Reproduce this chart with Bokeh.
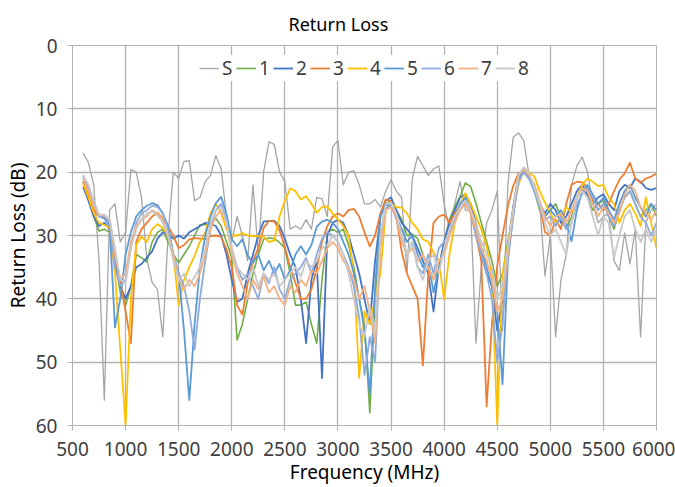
from bokeh.plotting import figure
from bokeh.models import Range1d, FixedTicker, Legend
from bokeh.embed import file_html
from bokeh.resources import INLINE

freq = list(range(600, 6001, 50))

s_vals = [
    17.0, 18.5, 22.0, 34.0, 56.0, 26.0, 25.0, 31.0, 29.5, 19.6,
    20.0, 24.0, 33.7, 37.4, 38.5, 46.0, 30.0, 20.0, 21.0, 18.3,
    18.2, 24.5, 24.0, 21.5, 20.5, 17.4, 19.5, 27.0, 31.0, 27.0,
    30.0, 34.0, 22.0, 33.0, 20.0, 15.2, 15.6, 20.0, 21.5, 29.0,
    28.5, 29.0, 27.5, 29.0, 24.0, 24.2, 27.0, 16.0, 15.0, 22.0,
    20.0, 19.8, 22.0, 25.0, 25.0, 24.3, 25.5, 23.0, 21.2, 23.0,
    24.0, 36.0, 21.0, 17.5, 19.0, 20.5, 19.5, 19.0, 25.0, 29.0,
    25.0, 21.5, 26.0, 26.0, 47.0, 35.0, 28.0, 26.0, 23.0, 45.0,
    22.0, 14.5, 13.8, 15.0, 20.5, 22.3, 25.0, 36.4, 30.0, 46.0,
    37.0, 33.0, 22.0, 19.0, 17.6, 20.0, 25.0, 28.0, 27.0, 26.5,
    34.0, 35.5, 29.6, 34.5, 29.0, 46.0, 28.0, 26.0, 25.0,
]
s1 = [
    21.5, 24.0, 27.0, 29.3, 29.0, 29.5, 34.0, 39.0, 41.0, 38.0,
    33.0, 33.5, 34.2, 31.0, 29.5, 29.0, 31.0, 33.0, 34.3, 33.0,
    31.7, 30.0, 28.3, 28.3, 28.0, 27.3, 28.5, 31.0, 33.5, 46.5,
    44.0, 40.0, 36.0, 33.0, 30.6, 30.4, 30.5, 31.1, 32.0, 36.0,
    41.0, 41.0, 40.5, 44.0, 47.0, 37.0, 29.5, 29.0, 29.5, 29.0,
    31.5, 35.0, 40.0, 44.0, 58.0, 40.0, 30.0, 25.0, 24.5, 26.0,
    27.5, 30.0, 29.8, 30.5, 33.0, 35.0, 36.9, 35.3, 31.0, 27.5,
    25.5, 23.8, 21.7, 22.3, 24.9, 28.0, 31.0, 34.0, 38.0, 36.0,
    31.0, 26.0, 21.0, 19.5, 20.5, 23.0, 26.0, 27.0, 26.0, 25.0,
    27.0, 29.0, 27.0, 24.0, 22.5, 24.0, 26.0, 25.0, 24.5, 27.0,
    29.0, 26.0, 24.0, 23.0, 25.0, 27.0, 26.0, 25.0, 27.0,
]
s2 = [
    22.3, 24.5, 27.0, 28.5, 28.0, 29.0, 33.0, 38.0, 40.0, 38.0,
    35.0, 34.5, 33.5, 32.5, 30.5, 29.5, 29.8, 30.5, 30.0, 30.5,
    29.5, 29.0, 28.5, 28.0, 28.2, 28.5, 30.0, 33.0, 37.0, 40.5,
    40.0, 36.0, 33.0, 30.0, 27.8, 27.7, 27.7, 28.5, 30.5, 33.0,
    35.0, 40.0, 47.0, 37.0, 34.0, 52.5, 30.0, 28.0, 27.5, 28.0,
    30.0, 33.0, 36.0, 40.0, 44.0, 34.0, 27.0, 24.5, 24.0, 26.0,
    28.0, 29.0, 30.0, 32.0, 34.0, 36.0, 42.0, 35.0, 31.0, 28.0,
    26.0, 24.0, 23.5, 25.0, 28.0, 33.0, 36.0, 38.0, 45.0, 40.0,
    32.0, 25.5, 20.5, 20.0, 21.0, 23.0, 25.0, 26.5, 25.0, 26.0,
    28.0, 27.0, 25.0, 23.0, 22.0, 23.5, 25.0, 24.0, 23.5, 25.0,
    26.0, 23.0, 22.0, 22.5, 21.0, 21.5, 22.5, 22.8, 22.5,
]
s3 = [
    21.5, 23.5, 26.0, 27.0, 27.0, 27.5, 33.0, 37.0, 42.0, 47.0,
    31.0, 29.0, 28.0, 27.0, 26.4, 27.3, 28.5, 30.1, 32.0, 31.5,
    30.6, 30.4, 30.5, 30.6, 30.1, 30.0, 30.2, 32.2, 35.0, 41.0,
    42.5, 37.5, 34.0, 32.0, 28.8, 27.7, 27.8, 29.2, 31.8, 35.0,
    37.5, 40.0, 40.0, 38.5, 35.3, 31.0, 28.5, 27.0, 26.5, 27.0,
    26.0, 25.8, 27.0, 29.5, 31.7, 30.0, 26.5, 24.3, 24.6, 27.0,
    32.5, 36.0, 38.0, 40.0, 50.5, 36.4, 28.0, 27.0, 26.7, 28.0,
    26.5, 25.2, 25.0, 26.5, 30.0, 34.0, 57.0, 44.0, 34.8, 30.0,
    25.4, 22.2, 20.2, 20.2, 20.6, 22.0, 25.0, 29.5, 30.0, 27.5,
    29.0, 25.0, 22.0, 21.5, 21.6, 22.5, 24.5, 25.0, 26.0, 25.0,
    23.0, 21.2, 20.2, 18.5, 21.0, 21.7, 21.0, 20.7, 20.2,
]
s4 = [
    21.8, 24.0, 26.5, 28.0, 28.3, 28.8, 36.0, 48.0, 60.0, 40.0,
    31.5, 30.2, 31.0, 29.0, 28.2, 28.8, 30.0, 33.0, 41.0, 37.0,
    35.0, 33.2, 31.0, 29.5, 26.5, 25.0, 26.5, 29.0, 30.0, 30.0,
    29.6, 30.0, 30.1, 30.1, 30.2, 31.0, 30.8, 27.0, 24.5, 22.6,
    23.0, 24.3, 23.8, 25.0, 26.4, 25.5, 25.4, 26.5, 27.5, 28.5,
    30.0, 36.0, 52.5, 42.0, 44.0, 40.0, 36.0, 26.0, 25.0, 25.5,
    25.6, 26.5, 28.0, 29.0, 30.6, 31.0, 32.7, 34.0, 40.0, 33.0,
    28.0, 25.0, 23.3, 25.0, 27.0, 29.0, 31.7, 36.0, 60.0, 36.0,
    31.7, 26.0, 22.0, 19.6, 20.0, 20.7, 23.0, 24.8, 26.5, 28.0,
    27.0, 25.5, 26.4, 24.0, 22.0, 21.0, 21.5, 22.2, 22.0, 24.0,
    25.0, 28.0, 26.0, 25.0, 26.5, 28.5, 24.0, 28.0, 32.0,
]
s5 = [
    20.5, 22.5, 25.0, 27.0, 27.3, 28.5, 44.5, 40.0, 33.0, 29.5,
    27.0, 26.0, 25.3, 24.9, 25.2, 26.5, 28.5, 33.0, 36.0, 45.0,
    56.0, 44.0, 35.0, 30.0, 27.0, 24.9, 23.9, 26.6, 30.6, 31.7,
    30.6, 33.2, 34.3, 33.0, 35.5, 34.0, 36.0, 34.5, 37.0, 35.5,
    33.0, 31.7, 33.0, 31.5, 28.6, 27.8, 27.5, 28.0, 29.0, 31.0,
    33.0, 36.0, 40.0, 45.0, 55.0, 38.0, 27.0, 25.0, 25.5, 27.0,
    29.0, 31.0, 30.0, 33.0, 35.0, 34.0, 39.0, 35.0, 32.0, 29.0,
    27.0, 25.0, 24.0, 26.0, 29.0, 32.0, 35.0, 38.0, 42.0, 53.5,
    34.0, 27.0, 21.0, 19.8, 20.5, 22.5, 25.0, 27.0, 26.0, 27.0,
    26.0, 28.0, 30.9, 26.0, 23.0, 22.0, 23.5, 25.0, 24.0, 26.0,
    27.5, 25.0, 23.0, 22.0, 24.0, 25.5, 27.0, 25.0, 26.0,
]
s6 = [
    20.8, 22.3, 25.0, 27.0, 27.0, 28.0, 35.0, 38.0, 37.0, 32.0,
    28.0, 26.5, 26.0, 25.3, 25.5, 26.5, 29.0, 33.0, 36.0, 38.0,
    42.0, 48.0, 40.0, 34.0, 29.0, 26.0, 25.0, 27.5, 32.0, 35.0,
    37.0, 36.0, 38.0, 40.0, 36.0, 37.5, 35.0, 38.5, 40.0, 37.0,
    36.0, 35.0, 33.5, 36.0, 33.0, 30.5, 29.5, 30.0, 31.0, 33.0,
    35.0, 38.0, 43.0, 52.0, 46.0, 50.0, 31.0, 25.8, 25.0, 27.5,
    30.0, 33.0, 31.0, 35.0, 36.0, 33.0, 36.0, 32.0, 31.0, 29.5,
    27.5, 25.5, 24.5, 26.0, 30.0, 33.0, 36.0, 40.0, 50.0, 44.0,
    33.0, 27.0, 21.5, 20.0, 21.0, 23.0, 25.5, 27.5, 27.0, 28.5,
    27.0, 29.0, 28.0, 25.0, 23.5, 22.5, 24.0, 26.0, 25.0, 27.0,
    28.5, 26.0, 24.0, 23.0, 25.0, 27.0, 28.0, 30.0, 28.0,
]
s7 = [
    21.0, 23.0, 25.5, 26.8, 26.8, 27.5, 33.0, 37.0, 36.0, 31.0,
    28.5, 27.5, 27.0, 26.0, 26.5, 27.5, 30.0, 33.0, 37.0, 38.5,
    37.0, 38.0, 36.0, 33.0, 29.0, 27.0, 26.0, 28.0, 33.0, 36.0,
    38.0, 40.0, 37.0, 38.5, 36.5, 39.0, 38.0, 40.0, 41.0, 38.0,
    39.0, 37.0, 38.0, 35.5, 36.0, 34.0, 32.0, 31.0, 32.0, 34.0,
    35.0, 37.0, 40.0, 38.0, 42.0, 47.0, 32.0, 26.0, 25.5, 27.0,
    31.0, 33.0, 32.0, 34.0, 33.0, 35.0, 37.0, 34.0, 33.0, 30.0,
    28.0, 26.0, 25.0, 26.5, 29.0, 32.0, 34.0, 37.0, 42.0, 40.0,
    33.0, 26.0, 20.5, 19.5, 20.5, 22.0, 24.5, 27.0, 28.5, 27.0,
    26.5, 28.0, 26.0, 24.0, 22.5, 23.0, 25.0, 27.0, 25.5, 26.5,
    28.0, 26.5, 23.5, 22.0, 23.0, 25.5, 26.5, 27.5, 26.0,
]
s8 = [
    20.5, 22.0, 24.5, 26.7, 26.7, 27.5, 32.0, 37.0, 37.5, 32.0,
    29.0, 27.5, 26.5, 26.2, 26.8, 28.0, 30.0, 34.0, 37.0, 36.0,
    38.0, 36.5, 35.0, 32.0, 28.0, 26.0, 25.5, 28.0, 32.0, 35.0,
    36.0, 37.0, 35.0, 38.0, 36.0, 37.0, 36.0, 38.0, 37.0, 36.0,
    35.0, 36.5, 34.0, 35.0, 34.0, 32.0, 31.5, 30.0, 31.0, 33.0,
    36.0, 40.0, 44.0, 46.0, 41.0, 45.0, 30.0, 25.0, 24.8, 26.5,
    30.0, 33.0, 31.0, 35.0, 37.0, 34.0, 33.0, 36.0, 32.0, 29.0,
    27.0, 25.5, 24.5, 26.0, 28.0, 31.0, 33.0, 35.0, 40.0, 38.0,
    32.0, 26.0, 20.5, 19.2, 20.0, 22.5, 25.0, 28.0, 30.0, 29.0,
    31.0, 33.0, 28.0, 24.0, 23.0, 24.0, 27.0, 30.0, 27.0, 28.0,
    33.5, 30.0, 27.0, 26.0, 29.0, 31.0, 29.0, 31.0, 29.0,
]

series_names = ["S", "1", "2", "3", "4", "5", "6", "7", "8"]
series_vals = [s_vals, s1, s2, s3, s4, s5, s6, s7, s8]
colors = ["#A5A5A5", "#70AD47", "#4472C4", "#ED7D31", "#FFC000",
          "#5B9BD5", "#8FAADC", "#F4B183", "#C9C9C9"]
widths = [1.3, 1.6, 1.8, 1.8, 1.8, 1.8, 1.8, 1.8, 1.8]

x_ticks = [500, 1000, 1500, 2000, 2500, 3000, 3500, 4000, 4500, 5000, 5500, 6000]
y_ticks = [0, 10, 20, 30, 40, 50, 60]

FONT = "Noto Sans"
GRID = "#B3B3B3"

p = figure(width=675, height=487, output_backend="svg", toolbar_location=None,
           x_range=Range1d(500, 6000), y_range=Range1d(60, 0),
           min_border_left=72, min_border_right=19, min_border_top=45,
           min_border_bottom=60, background_fill_color="white",
           border_fill_color="white")

p.title.text = "Return Loss"
p.title.align = "left"
p.title.offset = 216
p.title.vertical_align = "top"
p.title.text_font = FONT
p.title.text_font_size = "18px"
p.title.text_font_style = "normal"
p.title.text_color = "#000000"
p.title.standoff = 16

p.outline_line_color = GRID
p.outline_line_width = 1

for ax in (p.xaxis[0], p.yaxis[0]):
    ax.axis_line_color = GRID
    ax.axis_line_width = 1
    ax.major_tick_line_color = GRID
    ax.major_tick_in = 0
    ax.major_tick_out = 5
    ax.minor_tick_line_color = None
    ax.major_label_text_font = FONT
    ax.major_label_text_font_size = "19px"
    ax.major_label_text_color = "#404040"
    ax.axis_label_text_font = FONT
    ax.axis_label_text_font_size = "19px"
    ax.axis_label_text_font_style = "normal"
    ax.axis_label_text_color = "#000000"

p.xaxis.ticker = FixedTicker(ticks=x_ticks)
p.yaxis.ticker = FixedTicker(ticks=y_ticks)
p.xaxis.axis_label = "Frequency (MHz)"
p.yaxis.axis_label = "Return Loss (dB)"
p.xaxis.major_label_standoff = 11
p.xaxis.axis_label_standoff = 0
p.yaxis.major_label_standoff = 10
p.yaxis.axis_label_standoff = 2

p.xgrid.ticker = FixedTicker(ticks=x_ticks)
p.ygrid.ticker = FixedTicker(ticks=y_ticks)
p.xgrid.grid_line_color = GRID
p.ygrid.grid_line_color = GRID
p.xgrid.grid_line_width = 1.3
p.ygrid.grid_line_width = 1.3

items = []
for name, vals, col, w in zip(series_names, series_vals, colors, widths):
    r = p.line(freq, vals, line_color=col, line_width=w, line_join="round")
    items.append((name, [r]))

legend = Legend(items=items, orientation="horizontal", location="top_center")
legend.label_text_font = FONT
legend.label_text_font_size = "19px"
legend.label_text_color = "#404040"
legend.glyph_width = 20
legend.glyph_height = 14
legend.label_standoff = 3
legend.label_width = 11
legend.spacing = 3
legend.padding = 2
legend.margin = 10
legend.background_fill_color = "white"
legend.background_fill_alpha = 1.0
legend.border_line_color = None
p.add_layout(legend, "center")

open("out.html", "w").write(file_html(p, INLINE))
